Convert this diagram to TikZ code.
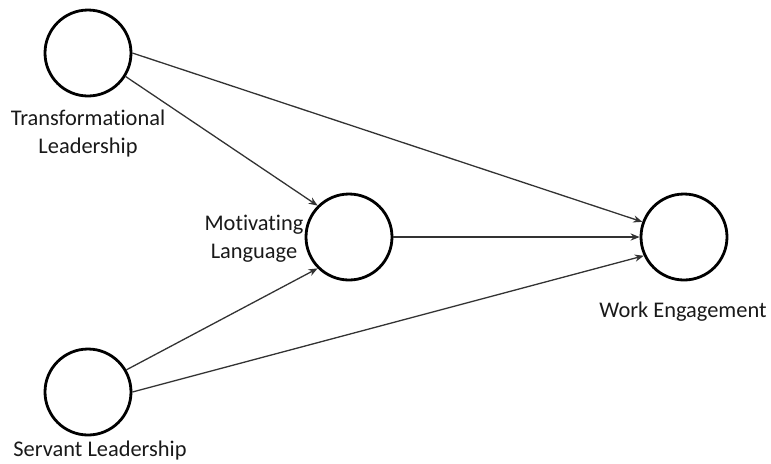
\documentclass[tikz,border=0pt]{standalone}
\usepackage{fontspec}
\setmainfont{Carlito}[Ligatures=NoCommon]
\usetikzlibrary{arrows.meta,positioning}

\begin{document}
\begin{tikzpicture}[x=0.5pt,y=-0.5pt,
latent/.style={
		circle,
		draw=black,
		line width=1.4pt,
		minimum size=43pt,
		inner sep=0pt,
		},
lbl/.style={
		text=black!90,
		font=\fontsize{11.2}{14}\selectfont,
		align=center,
		inner sep=0pt,
		},
link/.style={
		draw=black!80,
		line width=0.65pt,
		-{Stealth[length=4.5pt,width=3.6pt]},
		}
]

\useasboundingbox (0,0) rectangle (771,463);

% latent variables
\node[latent] (TL) at (88,53) {};
\node[latent] (ML) at (349,237) {};
\node[latent] (WE) at (684,237) {};
\node[latent] (SL) at (88,392) {};

% their names (base = last line)
\node[lbl, anchor=base] (TLname) at (88,153) {Transformational\\Leadership};
\node[lbl, anchor=base] (MLname) at (254,258) {Motivating\\Language};
\node[lbl, anchor=base] (WEname) at (683,317) {Work Engagement};
\node[lbl, anchor=base] (SLname) at (100,456) {Servant Leadership};

% paths
\foreach \a/\b in {TL.east/WE.160, TL.-32/ML.135, ML.east/WE.west, SL.30/ML.225, SL.east/WE.205}
{
  \draw[link] (\a) -- (\b);
}

\end{tikzpicture}
\end{document}
